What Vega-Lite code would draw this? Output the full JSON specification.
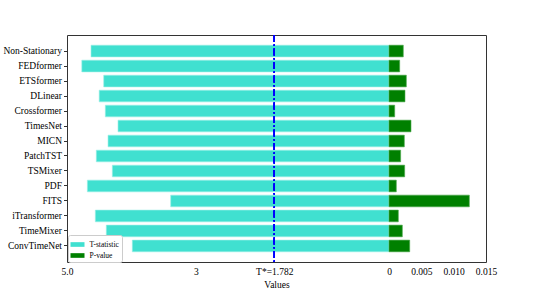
{
  "$schema": "https://vega.github.io/schema/vega-lite/v6.json",
  "width": 419,
  "height": 227,
  "autosize": {"type": "none"},
  "padding": {"left": 67, "top": 35, "right": 54, "bottom": 33},
  "background": "white",
  "config": {
    "font": "Liberation Serif",
    "view": {"stroke": "#333", "strokeWidth": 1},
    "axis": {"labelFont": "Liberation Serif", "titleFont": "Liberation Serif", "labelColor": "#000", "titleColor": "#000", "domainColor": "#333", "tickColor": "#333", "grid": false}
  },
  "data": {
    "values": [
      {"model": "Non-Stationary", "T": 4.627, "P": 0.00221},
      {"model": "FEDformer", "T": 4.77, "P": 0.00165},
      {"model": "ETSformer", "T": 4.43, "P": 0.00268},
      {"model": "DLinear", "T": 4.5, "P": 0.00247},
      {"model": "Crossformer", "T": 4.405, "P": 0.00088},
      {"model": "TimesNet", "T": 4.208, "P": 0.0034},
      {"model": "MICN", "T": 4.363, "P": 0.00237},
      {"model": "PatchTST", "T": 4.545, "P": 0.0018},
      {"model": "TSMixer", "T": 4.296, "P": 0.00242},
      {"model": "PDF", "T": 4.684, "P": 0.00113},
      {"model": "FITS", "T": 3.39, "P": 0.01242},
      {"model": "iTransformer", "T": 4.56, "P": 0.00144},
      {"model": "TimeMixer", "T": 4.39, "P": 0.00206},
      {"model": "ConvTimeNet", "T": 3.986, "P": 0.0032}
    ]
  },
  "layer": [
    {
      "mark": {"type": "bar", "color": "#40E0D0", "stroke": "#9af0e6", "strokeWidth": 0.6},
      "encoding": {
        "y": {
          "field": "model", "type": "nominal", "sort": null,
          "scale": {"paddingInner": 0.22, "paddingOuter": 0.68},
          "axis": {"title": null, "labelFontSize": 9.5, "tickSize": 3.5, "labelPadding": 2, "domain": false}
        },
        "x": {
          "field": "T", "type": "quantitative",
          "scale": {"domain": [-1.506, 5], "reverse": true, "nice": false, "zero": false},
          "axis": {
            "title": "Values", "titleFontSize": 9.5, "titleFontWeight": "normal", "titlePadding": 4,
            "values": [5, 3, 1.782, 0, -0.502, -1.004, -1.506],
            "labelExpr": "datum.value == 5 ? '5.0' : datum.value == 3 ? '3' : datum.value == 1.782 ? 'T*=1.782' : datum.value == 0 ? '0' : datum.value == -0.502 ? '0.005' : datum.value == -1.004 ? '0.010' : '0.015'",
            "labelFontSize": 9.5, "ticks": false, "labelPadding": 4, "labelFlush": false, "labelBound": false, "labelOverlap": false, "domain": false
          }
        },
        "x2": {"datum": 0},
        "color": {"datum": "T-statistic", "type": "nominal",
          "scale": {"domain": ["T-statistic", "P-value"], "range": ["#40E0D0", "#008000"]},
          "legend": {
            "title": null, "orient": "none", "legendX": 1, "legendY": 200,
            "symbolType": "M-1,-0.333H1V0.333H-1Z", "symbolSize": 196, "symbolStrokeWidth": 0,
            "labelFontSize": 7.5, "labelFont": "Liberation Serif", "labelColor": "#000",
            "padding": 2.5, "fillColor": "white", "strokeColor": "#ccc", "cornerRadius": 2, "rowPadding": -6, "labelOffset": 5
          }
        }
      }
    },
    {
      "mark": {"type": "bar", "color": "#008000", "stroke": "#4ca84c", "strokeWidth": 0.6},
      "encoding": {
        "y": {"field": "model", "type": "nominal", "sort": null},
        "x": {
          "field": "P", "type": "quantitative",
          "scale": {"domain": [-0.0498, 0.015], "nice": false, "zero": false},
          "axis": null
        },
        "x2": {"datum": 0},
        "color": {"datum": "P-value", "type": "nominal"}
      }
    },
    {
      "mark": {"type": "rule", "color": "#0000ff", "strokeWidth": 1.2, "strokeDash": [7, 2.5, 1.5, 2.5], "opacity": 0.6},
      "encoding": {
        "x": {"datum": 1.782, "type": "quantitative",
          "scale": {"domain": [-1.506, 5], "reverse": true, "nice": false, "zero": false},
          "axis": null}
      }
    }
  ],
  "resolve": {"scale": {"x": "independent"}, "axis": {"x": "independent"}}
}
